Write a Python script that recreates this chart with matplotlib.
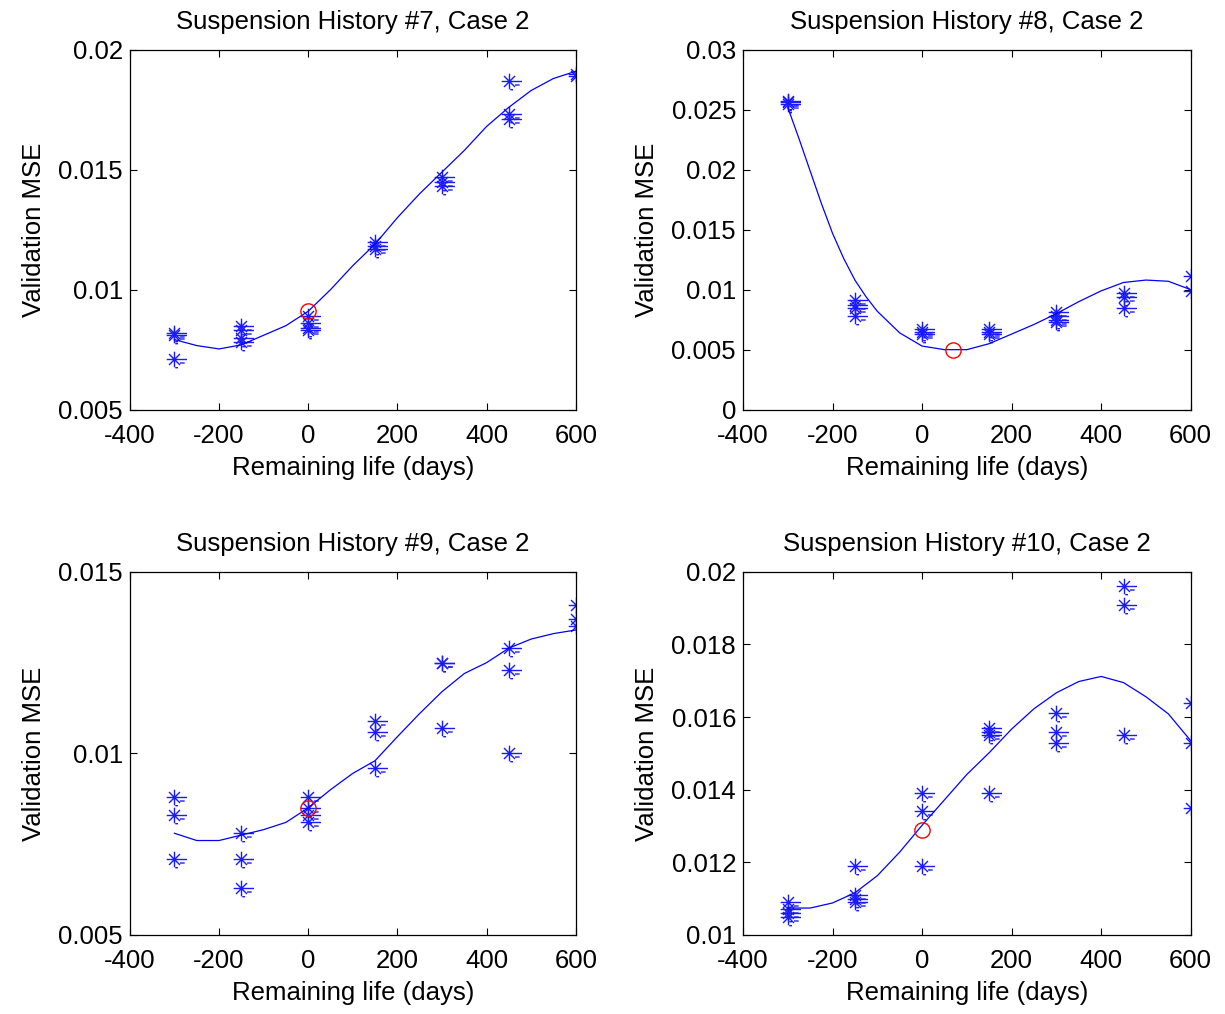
import numpy as np
import matplotlib
matplotlib.use('Agg')
import matplotlib.pyplot as plt
from matplotlib.path import Path

plt.rcParams['font.family'] = ['Liberation Sans', 'DejaVu Sans']
plt.rcParams['font.size'] = 18.5
plt.rcParams['axes.unicode_minus'] = False

# x positions of the runs (days of remaining life)
run_days = [-300, -150, 0, 150, 300, 450, 600]
curve_days = [-300, -250, -200, -150, -100, -50, 0, 50, 100, 150,
              200, 250, 300, 350, 400, 450, 500, 550, 600]
# #8 falls steeply at the start, so it was read more finely there
h8_curve_days = [-300, -275, -250, -225, -200, -175, -150, -125, -100, -50, 0, 50, 100, 150,
                 200, 250, 300, 350, 400, 450, 500, 550, 600]

# Suspension History #7
h7_runs = [[0.0082, 0.0081, 0.0071],
           [0.0085, 0.0083, 0.0080, 0.0078],
           [0.0089, 0.0086, 0.0084, 0.0083],
           [0.0120, 0.0118, 0.0117],
           [0.0147, 0.0145, 0.0143],
           [0.0187, 0.0173, 0.0171],
           [0.0190, 0.0189]]
h7_curve = [0.00792, 0.00767, 0.00753, 0.0077, 0.0081, 0.0085, 0.0091, 0.0100, 0.0110,
            0.0119, 0.0130, 0.0140, 0.0149, 0.0158, 0.0168, 0.0176, 0.0183, 0.0188, 0.0191]
h7_best = (0, 0.0091)

# Suspension History #8
h8_runs = [[0.0257, 0.0256, 0.0255],
           [0.0091, 0.0087, 0.0085, 0.0078],
           [0.0067, 0.0065, 0.0063],
           [0.0067, 0.0065, 0.0063],
           [0.0081, 0.0078, 0.0075, 0.0073],
           [0.0097, 0.0094, 0.0085],
           [0.0111, 0.0099]]
h8_curve = [0.0252, 0.0226, 0.0199, 0.0172, 0.0147, 0.0126, 0.0108, 0.0094, 0.0082, 0.0064,
            0.0053, 0.0050, 0.0050, 0.0055, 0.0063, 0.0071, 0.0080, 0.0090, 0.0099, 0.0106,
            0.0108, 0.0107, 0.0100]
h8_best = (70, 0.0050)

# Suspension History #9
h9_runs = [[0.0088, 0.0083, 0.0071],
           [0.0078, 0.0071, 0.0063],
           [0.0088, 0.0085, 0.0083, 0.0081],
           [0.0109, 0.0106, 0.0096],
           [0.0125, 0.0125, 0.0107],
           [0.0129, 0.0123, 0.0100],
           [0.0141, 0.0137, 0.0135]]
h9_curve = [0.0078, 0.0076, 0.0076, 0.00775, 0.0079, 0.0081, 0.0085, 0.0090, 0.00945,
            0.0098, 0.01046, 0.0111, 0.0117, 0.0122, 0.0125, 0.0129, 0.01315, 0.0133, 0.0134]
h9_best = (0, 0.0085)

# Suspension History #10
h10_runs = [[0.0109, 0.0107, 0.0106, 0.0105],
            [0.0119, 0.0111, 0.0110, 0.0109],
            [0.0139, 0.0134, 0.0119],
            [0.0157, 0.0156, 0.0155, 0.0139],
            [0.0161, 0.0156, 0.0153],
            [0.0196, 0.0191, 0.0155],
            [0.0164, 0.0153, 0.0135]]
h10_curve = [0.01074, 0.01074, 0.01088, 0.01116, 0.01163, 0.01228, 0.01302, 0.01372, 0.01442,
             0.01502, 0.01567, 0.01623, 0.01667, 0.01698, 0.01712, 0.01695, 0.01656, 0.01609, 0.01535]
h10_best = (0, 0.0129)

panels = [
    ('Suspension History #7, Case 2', h7_runs, curve_days, h7_curve, h7_best,
     [0.005, 0.01, 0.015, 0.02], ['0.005', '0.01', '0.015', '0.02']),
    ('Suspension History #8, Case 2', h8_runs, h8_curve_days, h8_curve, h8_best,
     [0, 0.005, 0.01, 0.015, 0.02, 0.025, 0.03],
     ['0', '0.005', '0.01', '0.015', '0.02', '0.025', '0.03']),
    ('Suspension History #9, Case 2', h9_runs, curve_days, h9_curve, h9_best,
     [0.005, 0.01, 0.015], ['0.005', '0.01', '0.015']),
    ('Suspension History #10, Case 2', h10_runs, curve_days, h10_curve, h10_best,
     [0.01, 0.012, 0.014, 0.016, 0.018, 0.02],
     ['0.01', '0.012', '0.014', '0.016', '0.018', '0.02']),
]

# MATLAB-like asterisk with the little render trails seen in the original
star_verts = [(0, -1), (0, 1), (-1, 0), (1.6, 0),
              (-0.7, -0.7), (0.7, 0.7), (-0.7, 0.7), (0.7, -0.7),
              (0.7, -0.45), (1.3, -0.45), (0.1, -1.05), (0.45, -1.05)]
star_codes = [Path.MOVETO, Path.LINETO] * 6
star = Path(star_verts, star_codes)

boxes = [[0.106, 0.596, 0.364, 0.355], [0.6065, 0.596, 0.3655, 0.355],
         [0.106, 0.078, 0.364, 0.358], [0.6065, 0.078, 0.3655, 0.358]]

fig = plt.figure(figsize=(12.25, 10.14), dpi=100)

for (title, runs, cx, curve, best, yticks, ylabels), box in zip(panels, boxes):
    ax = fig.add_axes(box)
    xs = []
    ys = []
    for d, vals in zip(run_days, runs):
        xs += [d] * len(vals)
        ys += vals
    ax.plot(xs, ys, linestyle='none', marker=star, markersize=18,
            markeredgecolor=(0.1, 0.1, 1.0), markeredgewidth=1.0, color='b')
    ax.plot(cx, curve, color='b', linewidth=0.9)
    ax.plot([best[0]], [best[1]], 'o', markersize=11, markerfacecolor='none',
            markeredgecolor='r', markeredgewidth=1.0)
    ax.set_xlim(-400, 600)
    ax.set_xticks([-400, -200, 0, 200, 400, 600])
    ax.set_ylim(yticks[0], yticks[-1])
    ax.set_yticks(yticks)
    ax.set_yticklabels(ylabels)
    ax.tick_params(direction='in', top=True, right=True, length=5, width=0.8)
    ax.tick_params(axis='x', pad=10)
    ax.tick_params(axis='y', pad=5)
    for s in ax.spines.values():
        s.set_linewidth(0.9)
    ax.set_title(title, fontsize=18.5, pad=15)
    ax.set_xlabel('Remaining life (days)', labelpad=6)
    ax.set_ylabel('Validation MSE', labelpad=9)

fig.savefig('out.png', dpi=100)
